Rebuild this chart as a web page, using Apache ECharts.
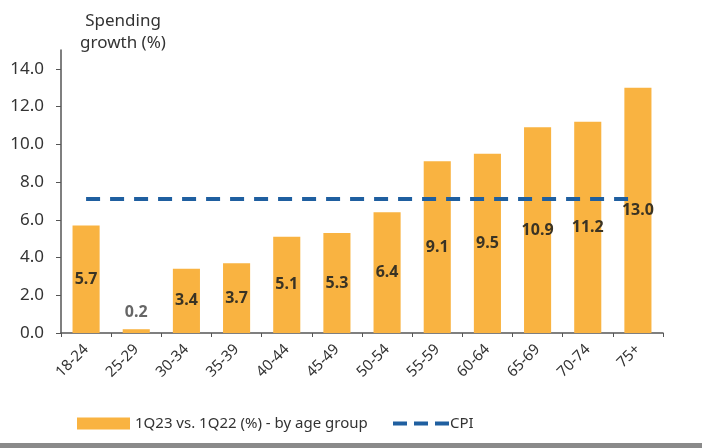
<!DOCTYPE html>
<html><head><meta charset="utf-8">
<script src="https://cdn.jsdelivr.net/npm/echarts@6/dist/echarts.min.js"></script>
<style>html,body{margin:0;padding:0;background:#fff}#c{width:702px;height:448px}</style>
</head><body><div id="c"></div>
<script>
var categories = ['18-24','25-29','30-34','35-39','40-44','45-49','50-54','55-59','60-64','65-69','70-74','75+'];
var spending = [5.7,0.2,3.4,3.7,5.1,5.3,6.4,9.1,9.5,10.9,11.2,13.0];
var cpi = [7.1,7.1,7.1,7.1,7.1,7.1,7.1,7.1,7.1,7.1,7.1,7.1];
var barName = '1Q23 vs. 1Q22 (%) - by age group';
var cpiName = 'CPI';
var font = 'Noto Sans';
var chart = echarts.init(document.getElementById('c'));
var barData = spending.map(function(v){
  return v < 1 ? {value:v,label:{position:'top',color:'#666',distance:9}} : v;
});
chart.setOption({
  animation:false,
  textStyle:{fontFamily:font},
  graphic:[
    {type:'text',x:123,y:13,style:{text:'Spending',font:'17px "Noto Sans"',fill:'#333',textAlign:'center'}},
    {type:'text',x:123,y:35,style:{text:'growth (%)',font:'17px "Noto Sans"',fill:'#333',textAlign:'center'}},
    {type:'rect',left:0,top:443,shape:{width:702,height:5},style:{fill:'#8a8a8a'}}
  ],
  grid:{left:61,right:39,top:50,bottom:115},
  legend:[
    {data:[barName],left:77,top:416,padding:0,itemWidth:53,itemHeight:12,icon:'rect',textStyle:{fontSize:15,color:'#333',fontFamily:font}},
    {data:[{name:cpiName,icon:'path://M0,0h14v4h-14z M21,0h14v4h-14z M42,0h14v4h-14z'}],left:393,top:416,padding:0,itemWidth:56,itemHeight:4,
      itemStyle:{color:'#1f5fa0'},textStyle:{fontSize:15,color:'#333',fontFamily:font,padding:[0,0,0,-4]}}
  ],
  xAxis:{type:'category',data:categories,boundaryGap:true,
    axisLine:{lineStyle:{color:'#555',width:1.5}},
    axisTick:{show:true,length:4,lineStyle:{color:'#555'}},
    axisLabel:{rotate:45,fontSize:15,color:'#333',margin:14,interval:0}},
  yAxis:{type:'value',min:0,max:15,interval:2,
    axisLine:{show:true,lineStyle:{color:'#555',width:1.5}},
    axisTick:{show:true,length:5,lineStyle:{color:'#555'}},
    splitLine:{show:false},
    axisLabel:{showMaxLabel:false,fontSize:17,color:'#333',margin:17,formatter:function(v){return v.toFixed(1);}}},
  series:[
    {name:barName,type:'bar',data:barData,barWidth:'54%',
      itemStyle:{color:'#F9B341'},
      label:{show:true,position:'inside',fontSize:16,color:'#3a3324',fontWeight:'bold',
        formatter:function(p){return p.value.toFixed(1);}}},
    {name:cpiName,type:'line',data:cpi,symbol:'none',showSymbol:false,
      lineStyle:{color:'#1f5fa0',width:4,type:[14,10]},itemStyle:{color:'#1f5fa0'}}
  ]
});
</script></body></html>
